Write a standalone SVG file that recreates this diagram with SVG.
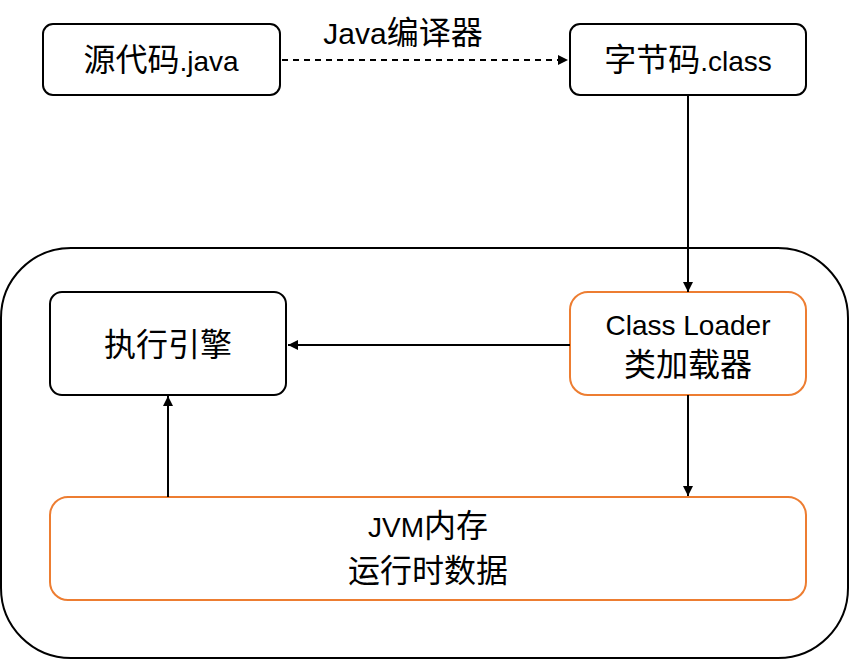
<svg xmlns="http://www.w3.org/2000/svg" width="850" height="660" viewBox="0 0 850 660">
<style>
.box{fill:#fff;stroke:#000;stroke-width:2}
.obox{fill:#fff;stroke:#ED7D31;stroke-width:2}
.t{font-family:"Liberation Sans","Noto Sans CJK SC",sans-serif;font-size:32px;fill:#000;text-anchor:middle}
.l{font-size:28px}
.c{stroke:#000;stroke-width:2;fill:none}
</style>
<defs>
<marker id="ah" viewBox="0 0 10 10" refX="10" refY="5" markerWidth="10" markerHeight="10" markerUnits="userSpaceOnUse" orient="auto">
<path d="M0,0 L10,5 L0,10 Z" fill="#000"/>
</marker>
</defs>
<g id="container"><rect x="1" y="248" width="847" height="410" rx="70" class="box"/></g>
<g id="src"><rect x="43" y="24" width="237" height="71" rx="10" class="box"/><text x="161" y="71" class="t">源代码<tspan class="l">.java</tspan></text></g>
<g id="bytecode"><rect x="570" y="24" width="236" height="71" rx="10" class="box"/><text x="688" y="71" class="t">字节码<tspan class="l">.class</tspan></text></g>
<g id="engine"><rect x="50" y="292" width="236" height="103" rx="12" class="box"/><text x="168" y="356" class="t">执行引擎</text></g>
<g id="loader"><rect x="570" y="292" width="236" height="103" rx="18" class="obox"/><text x="688" y="335" class="t l">Class Loader</text><text x="688" y="376" class="t">类加载器</text></g>
<g id="memory"><rect x="50" y="497" width="756" height="103" rx="18" class="obox"/><text x="428" y="537" class="t"><tspan class="l">JVM</tspan>内存</text><text x="428" y="582" class="t">运行时数据</text></g>
<g id="connectors">
<line x1="282" y1="60" x2="568" y2="60" class="c" stroke-dasharray="6,5" marker-end="url(#ah)"/>
<text x="403" y="44" class="t"><tspan style="font-size:30px">Java</tspan>编译器</text>
<line x1="688" y1="95" x2="688" y2="292" class="c" marker-end="url(#ah)"/>
<line x1="570" y1="345" x2="288" y2="345" class="c" marker-end="url(#ah)"/>
<line x1="688" y1="395" x2="688" y2="496" class="c" marker-end="url(#ah)"/>
<line x1="168" y1="497" x2="168" y2="396" class="c" marker-end="url(#ah)"/>
</g>
</svg>
